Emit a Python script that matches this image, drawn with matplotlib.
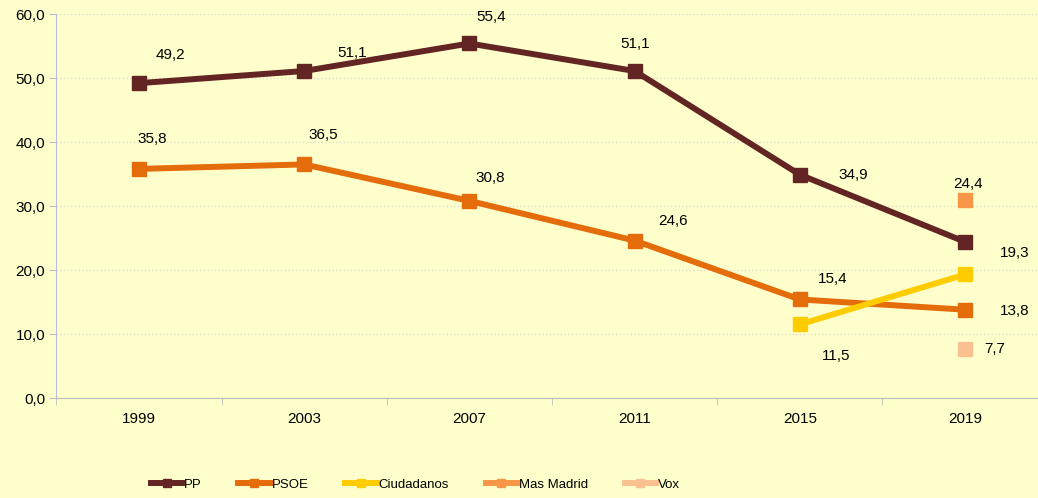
import matplotlib.pyplot as plt

plt.rcParams['font.family'] = ['Liberation Sans', 'DejaVu Sans']

years = ['1999', '2003', '2007', '2011', '2015', '2019']
pp = [49.2, 51.1, 55.4, 51.1, 34.9, 24.4]
psoe = [35.8, 36.5, 30.8, 24.6, 15.4, 13.8]
cs = [11.5, 19.3]
mas_madrid = [31.0]
vox = [7.7]

bg = '#FFFFCC'
fig = plt.figure(figsize=(10.38, 4.98), dpi=100, facecolor=bg)
ax = fig.add_axes([0.0543, 0.2008, 0.955, 0.771], facecolor=bg)

x = list(range(len(years)))
lw, ms = 4.3, 10
ax.plot(x, pp, color='#632523', lw=lw, marker='s', ms=ms, label='PP')
ax.plot(x, psoe, color='#E46C0A', lw=lw, marker='s', ms=ms, label='PSOE')
ax.plot(x[4:], cs, color='#FFCC00', lw=lw, marker='s', ms=ms, label='Ciudadanos')
ax.plot(x[5:], mas_madrid, color='#F79646', lw=lw, marker='s', ms=ms, label='Mas Madrid')
ax.plot(x[5:], vox, color='#FAC090', lw=lw, marker='s', ms=ms, label='Vox')

# data labels (offsets in pixels, as placed in the original)
def lab(xi, v, dx, dy):
    ax.annotate(f'{v:.1f}'.replace('.', ','), (xi, v), xytext=(dx, dy),
                textcoords='offset pixels', ha='center', va='center', fontsize=11)

for xi, v, (dx, dy) in zip(x, pp, [(31, 28), (48, 18), (22, 26), (1, 27), (53, 0), (3, 58)]):
    lab(xi, v, dx, dy)
for xi, v, (dx, dy) in zip(x, psoe, [(13, 30), (19, 29), (21, 23), (38, 20), (33, 20), (50, -1)]):
    lab(xi, v, dx, dy)
lab(4, cs[0], 36, -32)
lab(5, cs[1], 50, 21)
lab(5, vox[0], 30, 0)

ax.set_xlim(-0.5, 5.5)
ax.set_ylim(0, 60)
ax.set_yticks(range(0, 61, 10))
ax.set_yticklabels([f'{v},0' for v in range(0, 61, 10)])
ax.set_xticks(x)
ax.set_xticklabels(years)
ax.set_xticks([i - 0.5 for i in range(len(years) + 1)], minor=True)
ax.tick_params(axis='x', which='major', length=0, pad=10, labelsize=11)
ax.tick_params(axis='x', which='minor', length=5, color='#BBBBBB')
ax.tick_params(axis='y', length=5, color='#BBBBCC', labelsize=11, pad=3)
ax.yaxis.grid(True, color='#DDDDCC', ls=':', lw=1)
ax.set_axisbelow(True)
for s in ['top', 'right']:
    ax.spines[s].set_visible(False)
ax.spines['left'].set_color('#BBBBDD')
ax.spines['bottom'].set_color('#BBBBBB')

fig.legend(loc='center', bbox_to_anchor=(0.40, 0.027), ncol=5, frameon=False,
           fontsize=9.5, handlelength=2.4, handletextpad=0.1, columnspacing=2.8,
           markerscale=0.6)

fig.savefig('out.png', dpi=100, facecolor=bg)
